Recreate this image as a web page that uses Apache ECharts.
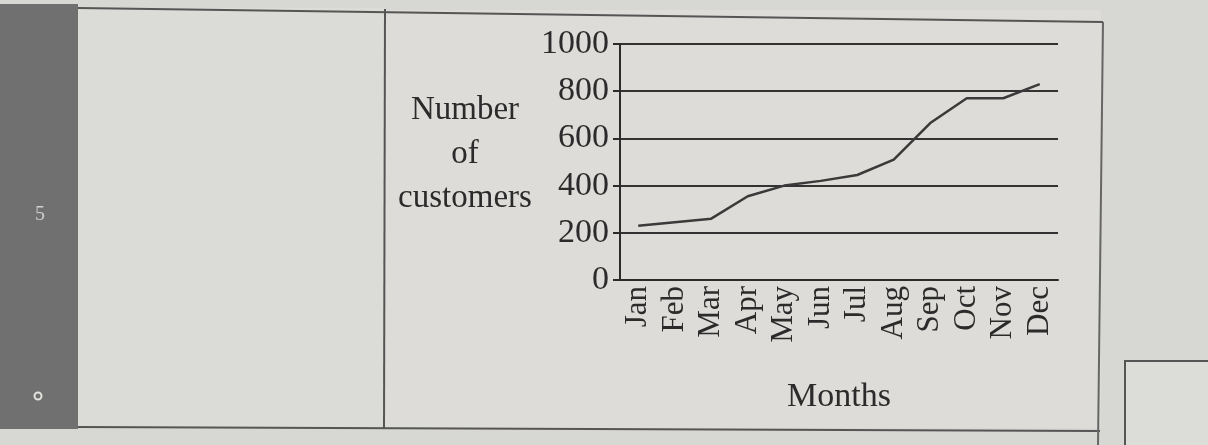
<!DOCTYPE html>
<html>
<head>
<meta charset="utf-8">
<script src="https://cdn.jsdelivr.net/npm/echarts@6/dist/echarts.min.js"></script>
<style>
  html, body { margin: 0; padding: 0; background: #d6d6d3; }
  #chart { width: 1208px; height: 445px; }
</style>
</head>
<body>
<div id="chart"></div>
<script>
// ---- data ----
const months = ['Jan', 'Feb', 'Mar', 'Apr', 'May', 'Jun', 'Jul', 'Aug', 'Sep', 'Oct', 'Nov', 'Dec'];
const customers = [230, 245, 260, 355, 400, 420, 445, 510, 665, 770, 770, 830];
const yTicks = [0, 200, 400, 600, 800, 1000];
const yAxisTitleLines = ['Number', 'of', 'customers'];
const xAxisTitle = 'Months';
const questionNumber = '5';

const serif = '"Liberation Serif", "DejaVu Serif", serif';
const ink = '#2b2b2b';

const chart = echarts.init(document.getElementById('chart'), null, { renderer: 'canvas' });

const yAxisTitle = yAxisTitleLines.map(s => '{t|' + s + '}').join('\n') + '\n{s| }';

chart.setOption({
  backgroundColor: '#d7d7d4',
  animation: false,
  graphic: [
    // page cells
    { type: 'rect', z: -10, shape: { x: 78, y: 8, width: 307, height: 420 }, style: { fill: '#dbdbd8' } },
    { type: 'rect', z: -10, shape: { x: 385, y: 10, width: 716, height: 418 }, style: { fill: '#dddcd9' } },
    { type: 'rect', z: -9, shape: { x: 0, y: 4, width: 78, height: 425 }, style: { fill: '#707070' } },
    { type: 'text', z: -8, style: { x: 40, y: 215, text: questionNumber, font: '20px ' + serif, fill: '#cfcfcb', align: 'center', verticalAlign: 'middle' } },
    { type: 'circle', z: -8, shape: { cx: 38, cy: 396, r: 3.5 }, style: { fill: 'none', stroke: '#e2e2de', lineWidth: 2 } },
    // table rules
    { type: 'line', z: -7, shape: { x1: 78, y1: 8, x2: 1103, y2: 22 }, style: { stroke: '#555', lineWidth: 2 } },
    { type: 'line', z: -7, shape: { x1: 78, y1: 427, x2: 1100, y2: 431 }, style: { stroke: '#555', lineWidth: 2 } },
    { type: 'line', z: -7, shape: { x1: 385, y1: 9, x2: 384, y2: 428 }, style: { stroke: '#555', lineWidth: 2 } },
    { type: 'line', z: -7, shape: { x1: 1103, y1: 22, x2: 1098, y2: 445 }, style: { stroke: '#666', lineWidth: 2 } },
    { type: 'rect', z: -7, shape: { x: 1125, y: 361, width: 100, height: 100 }, style: { fill: '#dcdcd9', stroke: '#555', lineWidth: 2 } }
  ],
  grid: { left: 620, right: 150, top: 44, bottom: 165, containLabel: false },
  xAxis: {
    type: 'category',
    data: months,
    boundaryGap: true,
    name: xAxisTitle,
    nameLocation: 'middle',
    nameGap: 100,
    nameTextStyle: { fontFamily: serif, fontSize: 34, color: ink },
    axisLine: { show: true, lineStyle: { color: ink, width: 2 } },
    axisTick: { show: false },
    axisLabel: { rotate: 90, fontFamily: serif, fontSize: 31, color: ink, margin: 6, interval: 0 },
    splitLine: { show: false }
  },
  yAxis: {
    type: 'value',
    min: 0,
    max: 1000,
    interval: 200,
    name: yAxisTitle,
    nameLocation: 'middle',
    nameRotate: 0,
    nameGap: 155,
    nameTextStyle: {
      fontFamily: serif, fontSize: 33, color: ink, align: 'center', verticalAlign: 'middle',
      rich: {
        t: { fontFamily: serif, fontSize: 33, color: ink, lineHeight: 44, align: 'center' },
        s: { fontSize: 10, lineHeight: 16 }
      }
    },
    axisLine: { show: true, lineStyle: { color: ink, width: 2 } },
    axisTick: { show: true, length: 7, lineStyle: { color: ink, width: 2 } },
    axisLabel: {
      fontFamily: serif, fontSize: 34, color: ink, margin: 11,
      formatter: v => (yTicks.indexOf(v) >= 0 ? String(v) : '')
    },
    splitLine: { show: true, lineStyle: { color: '#333', width: 2 } }
  },
  series: [{
    type: 'line',
    data: customers,
    symbol: 'none',
    smooth: false,
    lineStyle: { color: '#3a3a3a', width: 2.5 },
    z: 5
  }]
});
</script>
</body>
</html>
